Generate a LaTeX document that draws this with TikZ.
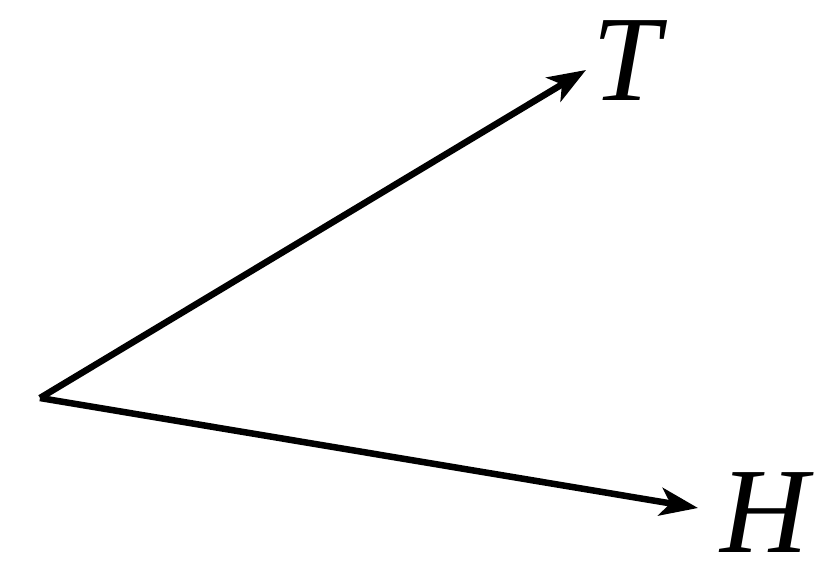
\documentclass[tikz,border=0pt]{standalone}
\usepackage{fontspec}
\setmainfont{Liberation Serif}
\usetikzlibrary{arrows.meta}
\begin{document}
\begin{tikzpicture}[x=1pt,y=1pt,
  vec/.style={line width=6.5pt,-{Stealth[length=38pt,width=28pt,inset=10pt]}},
  lbl/.style={inner sep=0pt,font=\fontsize{122}{122}\selectfont\itshape}]
\useasboundingbox (0,0) rectangle (830,573);
\coordinate (O) at (40,175);
\coordinate (Tt) at (586,503);
\coordinate (Ht) at (698,65);
\node[lbl] (T) at (626,512) {T};
\node[lbl] (H) at (765,60) {H};
\draw[vec] (O) -- (Tt);
\draw[vec] (O) -- (Ht);
\end{tikzpicture}
\end{document}
